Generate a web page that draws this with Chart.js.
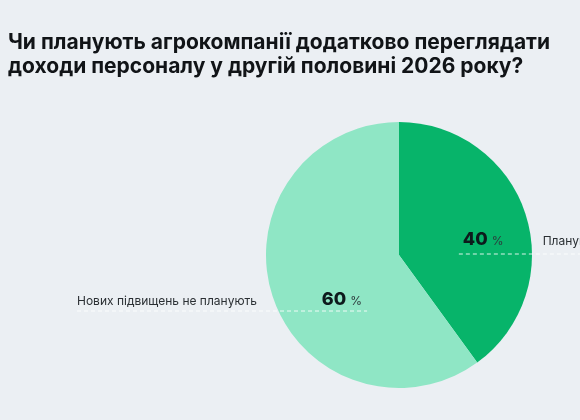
<!DOCTYPE html>
<html>
<head>
<meta charset="utf-8">
<script src="https://cdn.jsdelivr.net/npm/chart.js"></script>
<style>
  html, body { margin: 0; padding: 0; background: #ebeff3; overflow: hidden; }
  #wrap { position: relative; width: 580px; height: 420px; }
</style>
</head>
<body>
<div id="wrap"><canvas id="chart" width="580" height="420"></canvas></div>
<script>
// chart data
const titleLines = [
  'Чи планують агрокомпанії додатково переглядати',
  'доходи персоналу у другій половині 2026 року?'
];
const categories = ['Планують підвищення', 'Нових підвищень не планують'];
const shares = [40, 60];
const colors = ['#07b46a', '#8fe6c5'];

const FONT = 'Inter, "Noto Sans", sans-serif';

// title, percentage labels and dashed leader lines
const annotations = {
  id: 'annotations',
  afterDatasetsDraw(chart) {
    const ctx = chart.ctx;
    const arcs = chart.getDatasetMeta(0).data;
    const cx = arcs[0].x, cy = arcs[0].y, R = arcs[0].outerRadius;

    ctx.save();
    ctx.fillStyle = '#111417';
    ctx.font = `700 21px ${FONT}`;
    ctx.textBaseline = 'alphabetic';
    ctx.textAlign = 'left';
    ctx.fillText(titleLines[0], 8, 49);
    ctx.fillText(titleLines[1], 8, 73);

    // dashed lines
    ctx.strokeStyle = 'rgba(255,255,255,0.85)';
    ctx.lineWidth = 1;
    ctx.setLineDash([4, 3]);
    ctx.beginPath();
    ctx.moveTo(cx + 0.45 * R, cy - 1);
    ctx.lineTo(chart.width, cy - 1);
    ctx.moveTo(77, cy + 56);
    ctx.lineTo(cx - 0.24 * R, cy + 56);
    ctx.stroke();
    ctx.setLineDash([]);

    // percent labels
    const pct = (val, x, y) => {
      ctx.font = `800 18px ${FONT}`;
      ctx.fillStyle = '#0d1a1c';
      ctx.fillText(String(val), x, y);
      const w = ctx.measureText(String(val)).width;
      ctx.font = `400 12px ${FONT}`;
      ctx.fillStyle = '#2d3a3c';
      ctx.fillText('%', x + w + 4, y);
    };
    pct(shares[0], cx + 0.48 * R, cy - 10);
    pct(shares[1], cx - 0.58 * R, cy + 50);

    // category labels
    ctx.font = `400 12px ${FONT}`;
    ctx.fillStyle = '#2a2f33';
    ctx.fillText(categories[0], cx + 1.08 * R, cy - 10);
    ctx.fillText(categories[1], 77, cy + 50);
    ctx.restore();
  }
};

new Chart(document.getElementById('chart'), {
  type: 'pie',
  data: {
    labels: categories,
    datasets: [{
      data: shares,
      backgroundColor: colors,
      borderWidth: 0
    }]
  },
  options: {
    responsive: false,
    animation: false,
    layout: { padding: { left: 266, right: 48, top: 122, bottom: 32 } },
    plugins: {
      legend: { display: false },
      tooltip: { enabled: false }
    }
  },
  plugins: [annotations]
});
</script>
</body>
</html>
